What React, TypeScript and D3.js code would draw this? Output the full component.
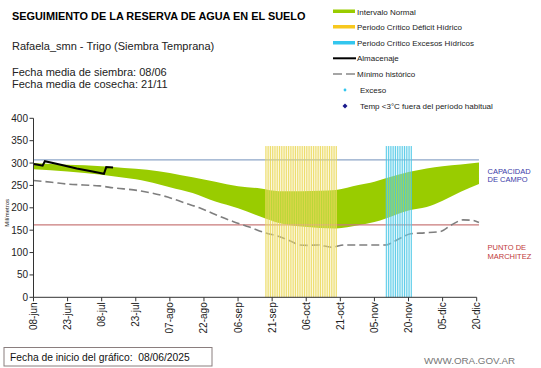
import * as d3 from 'd3';
import React from 'react';

// Values (mm of water in the soil)
const bandDates = ['2025-06-08', '2025-06-23', '2025-07-08', '2025-07-18', '2025-07-28', '2025-08-07', '2025-08-17', '2025-08-27', '2025-09-06', '2025-09-16', '2025-09-24', '2025-10-04', '2025-10-12', '2025-10-19', '2025-10-29', '2025-11-05', '2025-11-10', '2025-11-20', '2025-11-28', '2025-12-05', '2025-12-13', '2025-12-21'];
const bandUpper = [300, 296, 293, 289, 285, 278, 268, 258, 248, 243, 237, 237, 238, 240, 251, 258, 266, 280, 288, 293, 297, 301];
const bandLower = [286, 281, 274, 267, 259, 246, 233, 214, 199, 180, 166, 158, 155, 154, 161, 168, 176, 194, 202, 216, 236, 253];

const minDates = ['2025-06-08', '2025-06-16', '2025-06-23', '2025-06-30', '2025-07-07', '2025-07-14', '2025-07-22', '2025-07-30', '2025-08-06', '2025-08-13', '2025-08-20', '2025-08-27', '2025-09-04', '2025-09-11', '2025-09-18', '2025-09-24', '2025-09-29', '2025-10-03', '2025-10-07', '2025-10-11', '2025-10-17', '2025-10-23', '2025-10-31', '2025-11-10', '2025-11-13', '2025-11-17', '2025-11-21', '2025-11-27', '2025-12-04', '2025-12-09', '2025-12-14', '2025-12-18', '2025-12-21'];
const minValues = [261, 257, 253, 251, 249, 244, 240, 233, 224, 212, 200, 185, 169, 157, 144, 136, 126, 117, 116, 117, 112, 117, 117, 117, 123, 134, 142, 144, 147, 162, 173, 172, 167];

const storeDates = ['2025-06-08', '2025-06-10', '2025-06-12', '2025-06-13', '2025-06-20', '2025-06-27', '2025-07-04', '2025-07-09', '2025-07-10', '2025-07-13'];
const storeValues = [298, 296, 294, 304, 296, 288, 281, 276, 291, 290];

const fieldCapacity = 307;
const wiltingPoint = 162;

const deficitPeriod = ['2025-09-18', '2025-10-19'];
const excessPeriod = ['2025-11-10', '2025-11-21'];

const tickDates = ['2025-06-08', '2025-06-23', '2025-07-08', '2025-07-23', '2025-08-07', '2025-08-22', '2025-09-06', '2025-09-21', '2025-10-06', '2025-10-21', '2025-11-05', '2025-11-20', '2025-12-05', '2025-12-20'];
const monthNames = ['ene', 'feb', 'mar', 'abr', 'may', 'jun', 'jul', 'ago', 'sep', 'oct', 'nov', 'dic'];
const yTicks = [0, 50, 100, 150, 200, 250, 300, 350, 400];

const legendItems = [
  'Intervalo Normal',
  'Periodo Crítico Déficit Hídrico',
  'Periodo Crítico Excesos Hídricos',
  'Almacenaje',
  'Mínimo histórico',
  'Exceso',
  'Temp <3°C fuera del período habitual',
];

const parse = d3.utcParse('%Y-%m-%d');
const font = "'Liberation Sans', Arial, sans-serif";

export default function App() {
  const x = d3
    .scaleUtc()
    .domain([parse('2025-06-08'), parse('2025-12-20')])
    .range([33.5, 476.7]);
  const y = d3.scaleLinear().domain([0, 400]).range([297.3, 118.3]);

  const band = bandDates.map((d, i) => ({ date: parse(d), hi: bandUpper[i], lo: bandLower[i] }));
  const mins = minDates.map((d, i) => ({ date: parse(d), v: minValues[i] }));
  const store = storeDates.map((d, i) => ({ date: parse(d), v: storeValues[i] }));

  const area = d3
    .area()
    .x((d) => x(d.date))
    .y0((d) => y(d.lo))
    .y1((d) => y(d.hi))
    .curve(d3.curveMonotoneX);
  const line = d3
    .line()
    .x((d) => x(d.date))
    .y((d) => y(d.v));

  const periodDays = (p) => d3.utcDay.range(parse(p[0]), d3.utcDay.offset(parse(p[1]), 1));
  const xEnd = x(parse('2025-12-21'));
  const fmtTick = (s) => {
    const d = parse(s);
    return `${d3.utcFormat('%d')(d)}-${monthNames[d.getUTCMonth()]}`;
  };

  const drawPeriod = (p, lineColor, bgColor) => {
    const days = periodDays(p);
    const x0 = x(days[0]);
    const x1 = x(days[days.length - 1]);
    return (
      <g>
        <rect x={x0} y={y(338)} width={x1 - x0 + 1} height={y(0) - y(338)} fill={bgColor} opacity={0.35} />
        {days.map((d, i) => (
          <rect key={i} x={x(d)} y={y(338)} width={1.1} height={y(0) - y(338)} fill={lineColor} opacity={0.8} />
        ))}
      </g>
    );
  };

  return (
    <svg width={541} height={368} style={{ position: 'absolute', left: 0, top: 0, background: '#fff' }} fontFamily={font}>
      <rect width={541} height={368} fill="#fff" />
      {/* Titles */}
      <text x={12} y={19.5} fontSize={10.9} fontWeight="bold" fill="#000">SEGUIMIENTO DE LA RESERVA DE AGUA EN EL SUELO</text>
      <text x={12} y={49.5} fontSize={11} fill="#222">Rafaela_smn - Trigo (Siembra Temprana)</text>
      <text x={12} y={76} fontSize={11} fill="#222">Fecha media de siembra: 08/06</text>
      <text x={12} y={88} fontSize={11} fill="#222">Fecha media de cosecha: 21/11</text>

      {/* Legend */}
      <g fontSize={8} fill="#222">
        <rect x={333} y={9.5} width={22} height={3.5} fill="#99cc00" />
        <rect x={333} y={25} width={22} height={3.5} fill="#f7c81e" />
        <rect x={333} y={41} width={22} height={3.5} fill="#33c6ee" />
        <line x1={333} x2={356} y1={58.3} y2={58.3} stroke="#000" strokeWidth={2} />
        <line x1={333} x2={356} y1={74} y2={74} stroke="#888" strokeWidth={1.5} strokeDasharray="9,4" />
        <circle cx={345} cy={90} r={1.4} fill="#33c6ee" />
        <path d="M345,103.5 L347.5,106 L345,108.5 L342.5,106 Z" fill="#1a1a8c" />
        {legendItems.map((t, i) => (
          <text key={i} x={i < 5 ? 357 : 360} y={[14.5, 29.7, 45.7, 61.3, 77, 93, 109][i]}>{t}</text>
        ))}
      </g>

      {/* Normal interval */}
      <path d={area(band)} fill="#99cc00" />

      {/* Reference lines */}
      <line x1={33.5} x2={xEnd} y1={y(fieldCapacity)} y2={y(fieldCapacity)} stroke="#8ea6c8" strokeWidth={1.3} />
      <line x1={33.5} x2={xEnd} y1={y(wiltingPoint)} y2={y(wiltingPoint)} stroke="#c97a7a" strokeWidth={1.3} />

      {/* Historic minimum */}
      <path d={line.curve(d3.curveMonotoneX)(mins)} fill="none" stroke="#7f7f7f" strokeWidth={1.6} strokeDasharray="8,4" />

      {/* Critical periods */}
      {drawPeriod(deficitPeriod, '#e8d650', '#f6eca0')}
      {drawPeriod(excessPeriod, '#3ec3e3', '#bdeaf6')}

      {/* Storage */}
      <path d={line.curve(d3.curveLinear)(store)} fill="none" stroke="#000" strokeWidth={2} />

      {/* Y axis */}
      <line x1={33.5} x2={33.5} y1={y(400)} y2={y(0)} stroke="#333" />
      {yTicks.map((t) => (
        <g key={t}>
          <line x1={29.5} x2={33.5} y1={y(t)} y2={y(t)} stroke="#333" />
          <text x={28} y={y(t) + 3.5} fontSize={10} textAnchor="end" fill="#222">{t}</text>
        </g>
      ))}
      <text transform={`translate(8.5,${(y(400) + y(0)) / 2 + 5}) rotate(-90)`} fontSize={6} textAnchor="middle" fill="#222">Milímetros</text>

      {/* X axis */}
      <line x1={33.5} x2={x(parse('2025-12-20'))} y1={y(0)} y2={y(0)} stroke="#333" />
      {tickDates.map((t) => (
        <g key={t}>
          <line x1={x(parse(t))} x2={x(parse(t))} y1={y(0)} y2={y(0) + 4} stroke="#333" />
          <text transform={`translate(${x(parse(t)) + 3.5},${y(0) + 5}) rotate(-90)`} fontSize={10} textAnchor="end" fill="#222">
            {fmtTick(t)}
          </text>
        </g>
      ))}

      {/* Right labels */}
      <g fontSize={7.5} style={{ whiteSpace: 'pre' }}>
        <text x={487.5} y={173.5} fill="#3a3aa8">CAPACIDAD</text>
        <text x={487.5} y={182} fill="#3a3aa8">DE  CAMPO</text>
        <text x={487.5} y={250} fill="#c03a3a">PUNTO  DE</text>
        <text x={487.5} y={258.5} fill="#c03a3a">MARCHITEZ</text>
      </g>

      {/* Footer */}
      <rect x={4} y={347.5} width={208} height={18.5} fill="#fff" stroke="#8a7e7e" />
      <text x={10} y={360.5} fontSize={10.3} fill="#111" style={{ whiteSpace: 'pre' }}>Fecha de inicio del gráfico:  08/06/2025</text>
      <text x={424} y={364} fontSize={9.8} fill="#777">WWW.ORA.GOV.AR</text>
    </svg>
  );
}
